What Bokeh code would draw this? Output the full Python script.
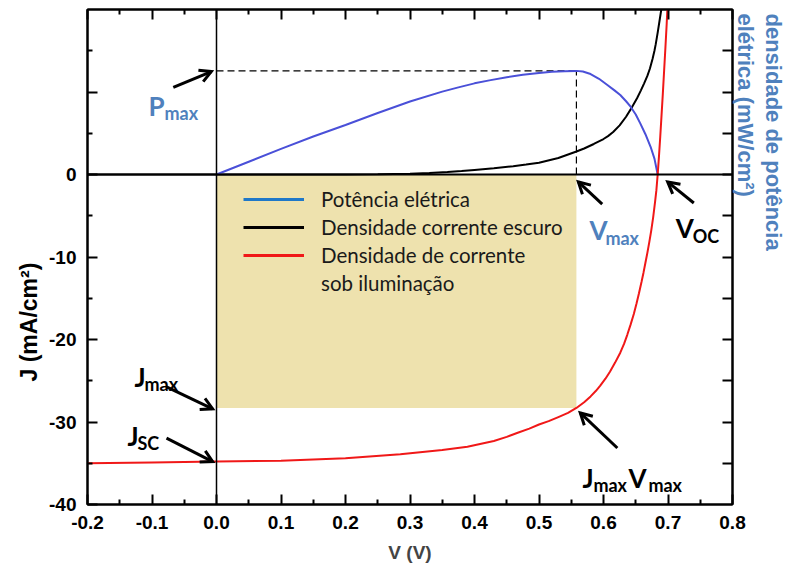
import math
from bokeh.plotting import figure
from bokeh.models import (Range1d, LinearAxis, FixedTicker, Span, Label, Title,
                          Legend, LegendItem, CustomJSTickFormatter)
from bokeh.embed import file_html
from bokeh.resources import INLINE

# Current density under illumination, J (mA/cm2) vs V (V)
v_light = [-0.2, -0.1, 0.0, 0.1, 0.2, 0.285, 0.35, 0.389, 0.43, 0.45, 0.467, 0.485,
           0.5, 0.515, 0.53, 0.545, 0.558, 0.57, 0.58, 0.588, 0.595, 0.603, 0.61,
           0.618, 0.626, 0.632, 0.637, 0.642, 0.647, 0.651, 0.655, 0.659, 0.662,
           0.665, 0.668, 0.671, 0.674, 0.677, 0.68, 0.682, 0.684, 0.686, 0.688,
           0.69, 0.692, 0.694, 0.696, 0.698, 0.699]
j_light = [-35.0, -34.9, -34.8, -34.7, -34.4, -33.9, -33.4, -33.0, -32.3, -31.8, -31.3,
           -30.8, -30.3, -29.9, -29.4, -28.9, -28.3, -27.6, -26.9, -26.25, -25.6,
           -24.75, -23.9, -22.8, -21.6, -20.5, -19.4, -18.2, -16.9, -15.7, -14.4,
           -13.0, -11.9, -10.7, -9.5, -8.2, -6.8, -5.2, -3.3, -1.9, 0.0, 2.2, 4.6,
           7.2, 9.8, 12.6, 15.4, 18.3, 20.0]

# Dark current density, J (mA/cm2)
v_dark = [-0.2, 0.0, 0.2, 0.25, 0.3, 0.33, 0.358, 0.38, 0.4, 0.43, 0.46, 0.48, 0.5,
          0.53, 0.557, 0.57, 0.585, 0.6, 0.607, 0.615, 0.625, 0.635, 0.6445, 0.652,
          0.658, 0.663, 0.668, 0.672, 0.676, 0.679, 0.681, 0.684, 0.687, 0.69]
j_dark = [0.0, 0.0, 0.0, 0.02, 0.1, 0.18, 0.3, 0.42, 0.55, 0.75, 1.0, 1.2, 1.43,
          2.0, 2.76, 3.15, 3.7, 4.3, 4.65, 5.15, 5.95, 7.0, 8.2, 9.25,
          10.2, 11.05, 11.95, 12.85, 14.0, 15.0, 15.8, 17.2, 18.7, 20.2]

# Electrical power density, P (mW/cm2)
v_power = [0.0, 0.05, 0.1, 0.15, 0.2, 0.25, 0.3, 0.35, 0.375, 0.4, 0.425, 0.45,
           0.475, 0.5, 0.52, 0.54, 0.558, 0.568, 0.58, 0.593, 0.606, 0.617, 0.626,
           0.635, 0.642, 0.65, 0.657, 0.665, 0.673, 0.679, 0.684]
p_power = [0.0, 1.94, 3.88, 5.75, 7.5, 9.31, 11.06, 12.56, 13.2, 13.81, 14.3, 14.75,
           15.1, 15.38, 15.55, 15.66, 15.7, 15.6, 15.22, 14.5, 13.56, 12.75, 12.05,
           11.1, 10.27, 9.1, 7.75, 6.1, 4.2, 2.4, 0.0]

# Characteristic points
V_MAX = 0.558
J_MAX = -28.3
J_SC = -34.8
V_OC = 0.684
P_MAX = 15.7

# Axes ticks
x_ticks = [-0.2, -0.1, 0.0, 0.1, 0.2, 0.3, 0.4, 0.5, 0.6, 0.7, 0.8]
x_tick_labels = ["-0.2", "-0.1", "0.0", "0.1", "0.2", "0.3", "0.4", "0.5", "0.6", "0.7", "0.8"]
x_minor = [-0.15, -0.05, 0.05, 0.15, 0.25, 0.35, 0.45, 0.55, 0.65, 0.75]
j_ticks = [-40, -30, -20, -10, 0, 10]
j_tick_labels = ["-40", "-30", "-20", "-10", "0", ""]
j_minor = [-35, -25, -15, -5, 5, 15]
p_ticks = [-43.75, -37.5, -31.25, -25.0, -18.75, -12.5, -6.25, 0.0, 6.25, 12.5, 18.75]

X_RANGE = (-0.2, 0.8)
J_RANGE = (-40, 20)
P_RANGE = (-50, 25)

BLUE_TXT = "#4F81BD"
TICK_FONT = "Liberation Sans"
ANN_FONT = "Lato"
W, H = 789, 565
BORDER = dict(left=87, right=57, top=9, bottom=61)

p = figure(width=W, height=H, x_range=Range1d(*X_RANGE), y_range=Range1d(*J_RANGE),
           output_backend="svg", toolbar_location=None,
           min_border_left=BORDER["left"], min_border_right=BORDER["right"],
           min_border_top=BORDER["top"], min_border_bottom=BORDER["bottom"],
           background_fill_color="white", border_fill_color="white")
p.extra_y_ranges = {"power": Range1d(*P_RANGE)}
p.xgrid.visible = False
p.ygrid.visible = False
p.outline_line_color = "black"
p.outline_line_width = 2
p.outline_line_alpha = 1

# pixel scale of each axis, used to shape the arrow heads
FRAME_W = W - BORDER["left"] - BORDER["right"]
FRAME_H = H - BORDER["top"] - BORDER["bottom"]
PX_X = FRAME_W / (X_RANGE[1] - X_RANGE[0])
PX_Y = {"default": FRAME_H / (J_RANGE[1] - J_RANGE[0]),
        "power": FRAME_H / (P_RANGE[1] - P_RANGE[0])}


def style_axis(ax, show_labels=True):
    ax.axis_line_color = "black"
    ax.axis_line_width = 2
    ax.major_tick_in = 10
    ax.major_tick_out = 0
    ax.minor_tick_in = 5
    ax.minor_tick_out = 0
    ax.major_tick_line_width = 2
    ax.minor_tick_line_width = 2
    ax.major_tick_line_color = "black"
    ax.minor_tick_line_color = "black"
    ax.major_label_text_font = TICK_FONT
    ax.major_label_text_font_style = "bold"
    ax.major_label_text_color = "black"
    if show_labels:
        ax.major_label_text_font_size = "19px"
    else:
        ax.formatter = CustomJSTickFormatter(code="return ''")
        ax.major_label_text_font_size = "0px"
        ax.major_label_standoff = 0


xax = p.xaxis[0]
style_axis(xax)
xax.ticker = FixedTicker(ticks=x_ticks, minor_ticks=x_minor)
xax.major_label_overrides = dict(zip(x_ticks, x_tick_labels))
xax.major_label_standoff = 11
xax.axis_label = "V (V)"
xax.axis_label_text_font = TICK_FONT
xax.axis_label_text_font_style = "bold"
xax.axis_label_text_font_size = "19px"
xax.axis_label_standoff = 10

yax = p.yaxis[0]
style_axis(yax)
yax.ticker = FixedTicker(ticks=j_ticks, minor_ticks=j_minor)
yax.major_label_overrides = dict(zip(j_ticks, j_tick_labels))
yax.major_label_standoff = 11

top_ax = LinearAxis(ticker=FixedTicker(ticks=x_ticks, minor_ticks=x_minor))
style_axis(top_ax, show_labels=False)
p.add_layout(top_ax, "above")

right_ax = LinearAxis(y_range_name="power", ticker=FixedTicker(ticks=p_ticks, minor_ticks=[]))
style_axis(right_ax, show_labels=False)
p.add_layout(right_ax, "right")

# Axis titles
p.add_layout(Title(text="J (mA/cm²)", align="left", offset=123, standoff=9,
                   text_font=TICK_FONT, text_font_style="bold",
                   text_font_size="23px", text_color="black"), "left")
p.add_layout(Title(text="elétrica (mW/cm²)", align="left", offset=4, standoff=1,
                   text_font=TICK_FONT, text_font_style="bold",
                   text_font_size="22px", text_color=BLUE_TXT), "right")
p.add_layout(Title(text="densidade de potência", align="left", offset=4, standoff=0,
                   text_font=TICK_FONT, text_font_style="bold",
                   text_font_size="22px", text_color=BLUE_TXT), "right")

# Maximum power rectangle
p.quad(left=[0], right=[V_MAX], top=[0], bottom=[J_MAX],
       fill_color="#EEE2AE", line_color=None)

# Zero lines
p.add_layout(Span(location=0, dimension="width", line_color="black", line_width=2))
p.add_layout(Span(location=0, dimension="height", line_color="black", line_width=1.5))

# Dashed guides to the power maximum
p.line([0, V_MAX], [P_MAX, P_MAX], y_range_name="power",
       line_color="black", line_width=1.2, line_dash="7 4")
p.line([V_MAX, V_MAX], [0, P_MAX], y_range_name="power",
       line_color="black", line_width=1.2, line_dash="7 4")

# Curves
p.line(v_dark, j_dark, line_color="black", line_width=2)
p.line(v_power, p_power, y_range_name="power", line_color="#4A50D8", line_width=2)
p.line(v_light, j_light, line_color="#F01818", line_width=2)

# Legend (sample lines come from renderers that sit outside the view)
OFF_X, OFF_Y = [-5, -4], [-500, -500]
r_blue = p.line(OFF_X, OFF_Y, line_color="#1F78C8", line_width=3)
r_black = p.line(OFF_X, OFF_Y, line_color="black", line_width=3)
r_red = p.line(OFF_X, OFF_Y, line_color="#F01818", line_width=3)
r_none = p.line(OFF_X, OFF_Y, line_alpha=0)
legend = Legend(items=[
    LegendItem(label="Potência elétrica", renderers=[r_blue]),
    LegendItem(label="Densidade corrente escuro", renderers=[r_black]),
    LegendItem(label="Densidade de corrente", renderers=[r_red]),
    LegendItem(label="sob iluminação", renderers=[r_none]),
], location=(156, 209), glyph_width=61, glyph_height=20, label_height=20,
    label_standoff=17, spacing=4, padding=0, margin=0,
    background_fill_alpha=0, border_line_alpha=0,
    label_text_font=ANN_FONT, label_text_font_size="20.5px", label_text_color="#1a1a1a")
p.add_layout(legend)


def tag(x, y, text, dx, dy, size, color, rng="default"):
    p.add_layout(Label(x=x, y=y, x_offset=dx, y_offset=-dy, text=text,
                       text_font=ANN_FONT, text_font_style="bold",
                       text_font_size=f"{size}px", text_color=color,
                       text_align="left", text_baseline="alphabetic",
                       y_range_name=rng))


def arrow(x0, y0, x1, y1, rng="default", head=13, spread=0.5):
    """Shaft from (x0, y0) to (x1, y1) with an open head at the end."""
    sy = PX_Y[rng]
    p.line([x0, x1], [y0, y1], y_range_name=rng, line_color="black", line_width=3)
    ang = math.atan2((y1 - y0) * sy, (x1 - x0) * PX_X)
    wx, wy = [], []
    for a in (ang + math.pi - spread, None, ang + math.pi + spread):
        if a is None:
            wx.append(x1)
            wy.append(y1)
        else:
            wx.append(x1 + head * math.cos(a) / PX_X)
            wy.append(y1 + head * math.sin(a) / sy)
    p.line(wx, wy, y_range_name=rng, line_color="black", line_width=3,
           line_join="miter")


# P max
tag(0, P_MAX, "P", -68, 35, 26, BLUE_TXT, "power")
tag(0, P_MAX, "max", -52, 42, 18, BLUE_TXT, "power")
arrow(-0.067, P_MAX - 2.5, -0.008, P_MAX - 0.1, "power")

# V max
tag(V_MAX, 0, "V", 13, 55, 26, BLUE_TXT)
tag(V_MAX, 0, "max", 29, 63, 18, BLUE_TXT)
arrow(V_MAX + 0.04, -3.6, V_MAX + 0.003, -0.9)

# V oc
tag(V_OC, 0, "V", 18, 53, 26, "black")
tag(V_OC, 0, "OC", 35, 61, 18, "black")
arrow(V_OC + 0.056, -3.45, V_OC + 0.0155, -0.9)

# J max
tag(0, J_MAX, "J", -82, -31, 26, "black")
tag(0, J_MAX, "max", -72, -24, 18, "black")
arrow(-0.0775, J_MAX + 2.55, -0.006, J_MAX - 0.1)

# J sc
tag(0, J_SC, "J", -89, -26, 26, "black")
tag(0, J_SC, "SC", -79, -19, 18, "black")
arrow(-0.0775, J_SC + 2.85, -0.006, J_SC)

# J max V max
tag(V_MAX, J_MAX, "J", 6, 70, 26, "black")
tag(V_MAX, J_MAX, "max", 17, 77, 18, "black")
tag(V_MAX, J_MAX, "V", 52, 70, 26, "black")
tag(V_MAX, J_MAX, "max", 72, 77, 18, "black")
arrow(V_MAX + 0.0635, J_MAX - 4.85, V_MAX + 0.006, J_MAX - 0.6)

open("out.html", "w").write(file_html(p, INLINE))
